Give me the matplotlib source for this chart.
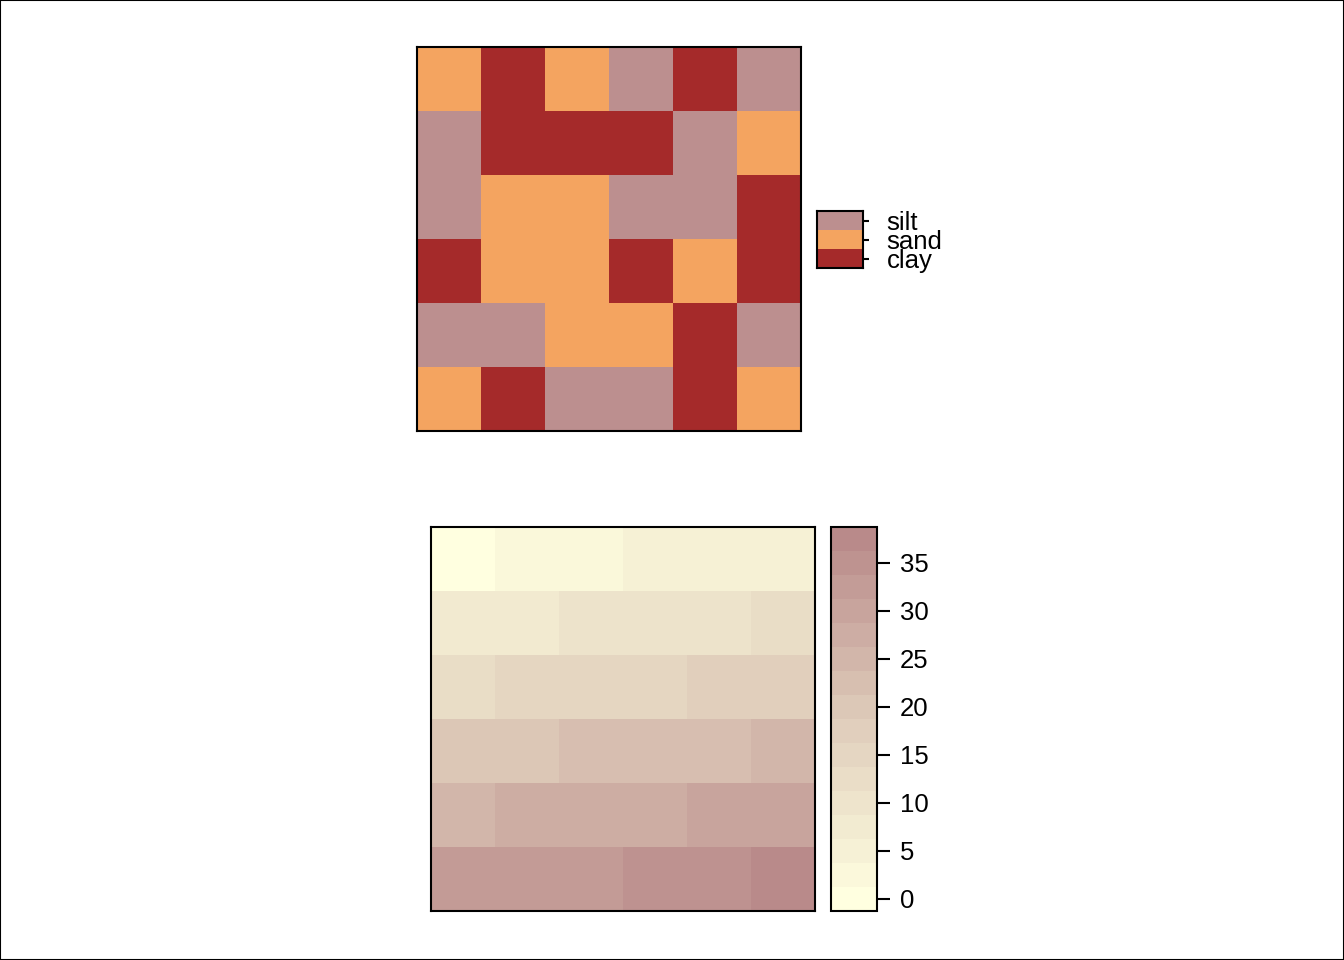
import numpy as np
import matplotlib
matplotlib.use("Agg")
import matplotlib.pyplot as plt
from matplotlib.colors import ListedColormap, LinearSegmentedColormap, BoundaryNorm
from matplotlib.cm import ScalarMappable
from matplotlib.patches import Rectangle

plt.rcParams["font.family"] = ["Liberation Sans", "DejaVu Sans"]

# soil classes, top row first
class_names = ["clay", "sand", "silt"]
class_colors = ["#A52A2A", "#F4A460", "#BC8F8F"]
soil_rows = [
    ["sand", "clay", "sand", "silt", "clay", "silt"],
    ["silt", "clay", "clay", "clay", "silt", "sand"],
    ["silt", "sand", "sand", "silt", "silt", "clay"],
    ["clay", "sand", "sand", "clay", "sand", "clay"],
    ["silt", "silt", "sand", "sand", "clay", "silt"],
    ["sand", "clay", "silt", "silt", "clay", "sand"],
]

# continuous values, top row first
value_rows = [
    [0, 2, 3, 5, 5, 6],
    [7, 8, 9, 10, 11, 12],
    [13, 14, 15, 16, 17, 18],
    [19, 20, 22, 22, 23, 24],
    [25, 27, 27, 28, 29, 30],
    [32, 32, 33, 34, 35, 37],
]
levels = np.linspace(-1.25, 38.75, 17)
cbar_ticks = [0, 5, 10, 15, 20, 25, 30, 35]

W, H = 1344, 960
fig = plt.figure(figsize=(W / 100, H / 100), dpi=100)
fig.patches.append(Rectangle((0, 0), 1, 1, transform=fig.transFigure,
                             fill=False, edgecolor="black", linewidth=1.5))


def fax(x0, y0, x1, y1):
    # axes from pixel box (top-left origin)
    return fig.add_axes([x0 / W, 1 - y1 / H, (x1 - x0) / W, (y1 - y0) / H])


# top: categorical map
cat_cmap = ListedColormap(class_colors)
codes = np.array([[class_names.index(c) for c in row] for row in soil_rows])
ax1 = fax(417, 47, 801, 431)
ax1.imshow(codes, cmap=cat_cmap, vmin=-0.5, vmax=2.5, aspect="auto",
           interpolation="nearest")
ax1.set_xticks([])
ax1.set_yticks([])
for s in ax1.spines.values():
    s.set_linewidth(1.5)

lax = fax(817, 211, 863, 268)
lax.imshow(np.arange(3)[::-1].reshape(3, 1), cmap=cat_cmap, vmin=-0.5,
           vmax=2.5, aspect="auto", extent=(0, 1, 0, 3))
lax.set_xticks([])
lax.yaxis.tick_right()
lax.set_yticks([0.5, 1.5, 2.5])
lax.set_yticklabels(class_names)
lax.tick_params(axis="y", length=4, width=1.5, pad=13, labelsize=18.5)
for s in lax.spines.values():
    s.set_linewidth(1.5)

# bottom: continuous map
cmap = LinearSegmentedColormap.from_list(
    "soilval", ["#FFFFE0", "#DFCCBA", "#B98A8A"]).resampled(16)
norm = BoundaryNorm(levels, 16)
ax2 = fax(431, 527, 815, 911)
ax2.imshow(np.array(value_rows), cmap=cmap, norm=norm, aspect="auto",
           interpolation="nearest")
ax2.set_xticks([])
ax2.set_yticks([])
for s in ax2.spines.values():
    s.set_linewidth(1.5)

cax = fax(831, 527, 877, 911)
cb = fig.colorbar(ScalarMappable(norm=norm, cmap=cmap), cax=cax,
                  ticks=cbar_ticks, spacing="proportional")
cb.minorticks_off()
cb.outline.set_linewidth(1.5)
cax.tick_params(length=9.5, width=1.5, pad=7, labelsize=18.5)

fig.savefig("out.png", dpi=100)
